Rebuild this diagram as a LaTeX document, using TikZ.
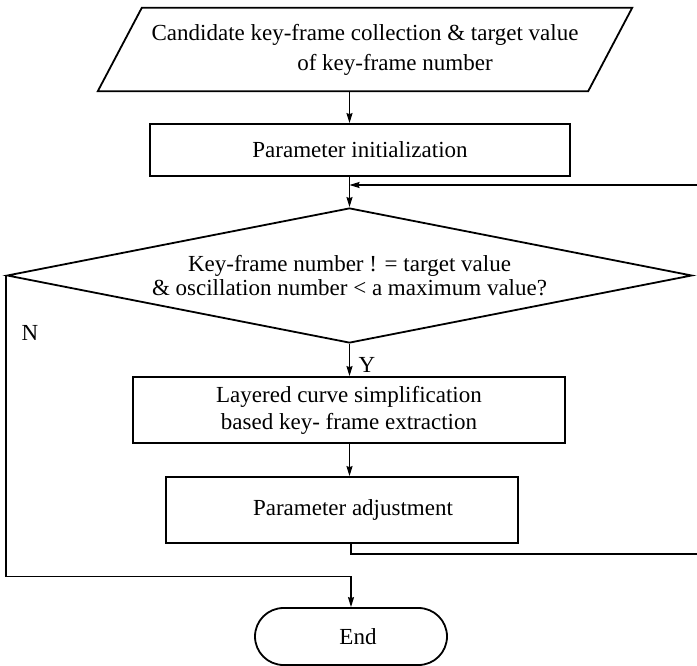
\documentclass[tikz,border=0pt]{standalone}
\usepackage{fontspec}
\setmainfont{Liberation Serif}
\usetikzlibrary{arrows.meta,shapes.geometric,shapes.misc,calc}

\tikzset{
  shapeline/.style={draw=black, line width=1.8pt},
  procbox/.style={shapeline, rectangle, inner sep=0pt, align=center},
  conn/.style={draw=black, line width=1.3pt},
  arr/.style={conn, -{Stealth[length=10pt,width=6pt,inset=1pt]}},
  lbl/.style={inner sep=0pt},
  every node/.style={font=\fontsize{23}{25}\selectfont}
}

\begin{document}
\begin{tikzpicture}[x=1pt,y=-1pt]
  \useasboundingbox (0,0) rectangle (697,666);
  \clip (0,0) rectangle (697,666);

  % input: parallelogram drawn around an invisible text box
  \node[lbl, minimum width=534pt, minimum height=83pt, align=center,
        font=\fontsize{23}{30}\selectfont] (inp) at (365,49.5)
    {Candidate key-frame collection \& target value\\\hspace*{60pt}of key-frame number};
  \draw[shapeline] (inp.south west) -- ($(inp.north west)+(44,0)$)
    -- (inp.north east) -- ($(inp.south east)+(-44,0)$) -- cycle;

  % processing steps
  \node[procbox, minimum width=420pt, minimum height=52pt] (init) at (360,150)
    {Parameter initialization};

  \node[shapeline, diamond, aspect=5.07, minimum width=685pt, minimum height=135pt,
        inner sep=0pt, align=center, font=\fontsize{23}{24}\selectfont] (dec) at (349.5,275.5)
    {Key-frame number ! = target value\\\& oscillation number < a maximum value?};

  \node[procbox, minimum width=432pt, minimum height=66pt,
        font=\fontsize{23}{27}\selectfont] (layer) at (349,410)
    {Layered curve simplification\\based key- frame extraction};

  \node[procbox, minimum width=352pt, minimum height=66pt] (adj) at (342,510)
    {\hspace*{22pt}Parameter adjustment};

  \node[shapeline, rounded rectangle, minimum width=192pt, minimum height=57pt,
        inner sep=0pt] (end) at (351,636.5) {\hspace*{14pt}End};

  % branch labels
  \node[lbl] (nlab) at (30,333) {N};
  \node[lbl] (ylab) at (367,365) {Y};

  % main flow
  \draw[arr] (inp.south -| dec.north) -- (init.north -| dec.north);
  \draw[arr] (init.south -| dec.north) -- (dec.north);
  \draw[arr] (dec.south) -- (layer.north -| dec.south);
  \draw[arr] (layer.south -| dec.north) -- (adj.north -| dec.north);

  % loop back from the adjustment step to the test
  \coordinate (merge) at (349.5,185);
  \coordinate (loopR) at (710,554);
  \draw[arr] (adj.south -| end.north) |- (loopR) |- (merge);

  % exit when the test fails
  \draw[arr] (dec.west) -- ++(0,301) -| (end.north);
\end{tikzpicture}
\end{document}
